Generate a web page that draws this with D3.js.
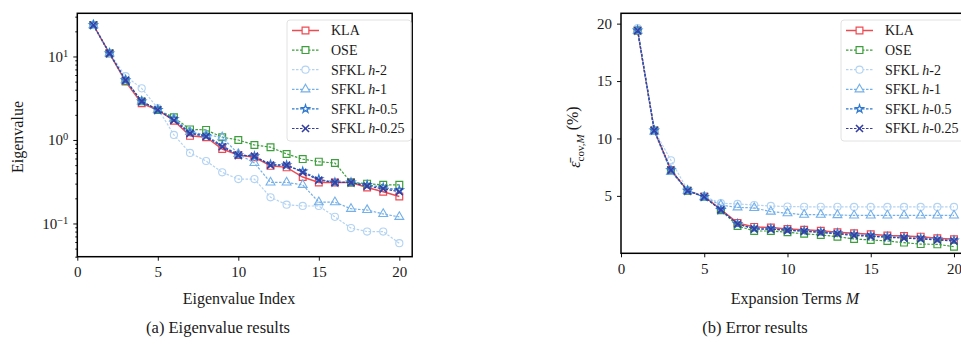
<!DOCTYPE html>
<html>
<head>
<meta charset="utf-8">
<script src="https://cdn.jsdelivr.net/npm/d3@7"></script>
<style>
body { margin: 0; background: #fff; }
text { font-family: "Liberation Serif", "Times New Roman", serif; fill: #1a1a1a; }
</style>
</head>
<body>
<script>
// x values (index / number of terms)
var terms = [1,2,3,4,5,6,7,8,9,10,11,12,13,14,15,16,17,18,19,20];

// (a) eigenvalues
var eigKLA  = [23.8,10.9,5.0,2.75,2.29,1.70,1.12,1.08,0.78,0.66,0.62,0.49,0.47,0.36,0.31,0.31,0.31,0.27,0.24,0.21];
var eigOSE  = [23.8,10.9,5.1,2.9,2.29,1.87,1.34,1.32,1.08,1.0,0.87,0.82,0.68,0.59,0.55,0.53,0.31,0.30,0.29,0.29];
var eigH2   = [23.8,11.0,5.8,4.15,2.4,1.15,0.70,0.56,0.41,0.34,0.34,0.206,0.168,0.162,0.162,0.12,0.088,0.08,0.08,0.058];
var eigH1   = [23.8,10.9,5.2,2.9,2.29,1.80,1.25,1.15,1.08,0.68,0.53,0.31,0.31,0.29,0.18,0.18,0.15,0.145,0.13,0.12];
var eigH05  = [23.8,10.9,5.2,2.9,2.29,1.78,1.22,1.12,0.86,0.66,0.64,0.51,0.50,0.42,0.34,0.31,0.31,0.29,0.27,0.25];
var eigH025 = [23.8,10.9,5.2,2.9,2.29,1.72,1.20,1.10,0.83,0.66,0.64,0.50,0.50,0.41,0.33,0.31,0.31,0.28,0.26,0.24];

// (b) error in %
var errKLA  = [19.4,10.7,7.25,5.45,4.95,3.8,2.65,2.3,2.25,2.12,2.05,1.97,1.83,1.74,1.65,1.54,1.51,1.45,1.31,1.22];
var errOSE  = [19.4,10.7,7.2,5.45,4.9,3.75,2.38,1.94,1.94,1.83,1.7,1.6,1.45,1.25,1.16,1.07,0.93,0.8,0.78,0.58];
var errH2   = [19.6,10.7,8.1,5.5,4.95,4.36,4.3,4.2,4.12,4.07,4.05,4.05,4.05,4.04,4.04,4.04,4.04,4.04,4.04,4.04];
var errH1   = [19.4,10.6,7.1,5.45,4.9,4.2,4.0,3.95,3.63,3.49,3.36,3.36,3.33,3.3,3.3,3.3,3.3,3.3,3.3,3.3];
var errH05  = [19.4,10.7,7.25,5.45,4.92,3.78,2.55,2.15,2.12,2.02,1.95,1.85,1.75,1.62,1.52,1.42,1.38,1.3,1.22,1.12];
var errH025 = [19.4,10.7,7.25,5.45,4.92,3.78,2.55,2.12,2.1,2.0,1.92,1.8,1.7,1.55,1.48,1.4,1.32,1.25,1.16,1.07];

var seriesNames = ["KLA", "OSE", "SFKL h-2", "SFKL h-1", "SFKL h-0.5", "SFKL h-0.25"];
var hLabels = [null, null, "-2", "-1", "-0.5", "-0.25"];
var xTicks = [0,5,10,15,20];
var logTicks = [0.1, 1, 10];
var errTicks = [5,10,15,20];

// styles per series
var colors  = ["#ee4a52", "#3c9e3c", "#b3d3f3", "#74b0e9", "#2f78cf", "#353fa3"];
var dashes  = [null, "2.5,1.5", "2.5,1.5", "2.5,1.5", "2.5,1.5", "2.5,1.5"];
var symbols = [d3.symbolSquare, d3.symbolSquare, d3.symbolCircle, d3.symbolTriangle, d3.symbolStar, d3.symbolTimes];
var symSize = [46, 46, 40, 34, 20, 34];
var symWidth = [1.2, 1.2, 1.1, 1.1, 1.2, 1.6];

var W = 961, H = 344;
var svg = d3.select("body").append("svg").attr("width", W).attr("height", H);

function drawPanel(o) {
    var x = d3.scaleLinear().domain([0, 20.8]).range([o.left, o.right]);
    var y = o.log ? d3.scaleLog().domain(o.ydom).range([o.bottom, o.top])
                  : d3.scaleLinear().domain(o.ydom).range([o.bottom, o.top]);
    var g = svg.append("g");

    // x axis
    var xa = g.append("g").attr("transform", "translate(0," + o.bottom + ")")
        .call(d3.axisBottom(x).tickValues(xTicks).tickSize(4).tickPadding(6).tickSizeOuter(0));
    xa.select(".domain").remove();
    xa.attr("font-family", null);
    xa.selectAll("text").style("font-size", "15px");

    // y axis
    var ya = g.append("g").attr("transform", "translate(" + o.left + ",0)")
        .call(d3.axisLeft(y).tickValues(o.yticks).tickSize(4).tickPadding(5).tickSizeOuter(0));
    ya.select(".domain").remove();
    ya.attr("font-family", null);
    ya.selectAll("text").style("font-size", "15px");
    if (o.log) {
        ya.selectAll(".tick text").each(function(d) {
            var t = d3.select(this).text("");
            var e = Math.round(Math.log10(d));
            t.append("tspan").text("10");
            t.append("tspan").attr("dy", "-0.5em").style("font-size", "10.5px")
                .text(e < 0 ? "\u2212" + (-e) : e);
        });
        // minor ticks
        var minor = [];
        [0.01, 0.1, 1, 10].forEach(function(dec) {
            for (var k = 2; k <= 9; k++) {
                var v = dec * k;
                if (v >= o.ydom[0] && v <= o.ydom[1]) minor.push(v);
            }
        });
        var ym = g.append("g").attr("transform", "translate(" + o.left + ",0)")
            .call(d3.axisLeft(y).tickValues(minor).tickSize(2).tickFormat("").tickSizeOuter(0));
        ym.select(".domain").remove();
    }
    g.selectAll(".tick line").attr("stroke", "#111");

    // series
    var line = d3.line().x(function(d, i) { return x(terms[i]); }).y(function(d) { return y(d); });
    o.data.forEach(function(vals, s) {
        g.append("path").attr("d", line(vals)).attr("fill", "none")
            .attr("stroke", colors[s]).attr("stroke-width", s == 0 ? 1.5 : 1.2)
            .attr("stroke-dasharray", dashes[s]);
        g.selectAll(null).data(vals).enter().append("path")
            .attr("transform", function(d, i) { return "translate(" + x(terms[i]) + "," + y(d) + ")"; })
            .attr("d", d3.symbol().type(symbols[s]).size(symSize[s]))
            .attr("fill", "none")
            .attr("stroke", colors[s]).attr("stroke-width", symWidth[s]);
    });

    // spines
    g.append("rect").attr("x", o.left).attr("y", o.top)
        .attr("width", o.right - o.left).attr("height", o.bottom - o.top)
        .attr("fill", "none").attr("stroke", "#000").attr("stroke-width", 1.5);

    // legend
    var lg = g.append("g").attr("transform", "translate(" + o.legX + "," + o.legY + ")");
    lg.append("rect").attr("width", o.legW).attr("height", 121).attr("rx", 3)
        .attr("fill", "#fff").attr("fill-opacity", 0.85).attr("stroke", "#e2e2e2");
    seriesNames.forEach(function(n, s) {
        var ry = 10.5 + s * 19.6;
        lg.append("line").attr("x1", 5).attr("x2", 32).attr("y1", ry).attr("y2", ry)
            .attr("stroke", colors[s]).attr("stroke-width", s == 0 ? 1.5 : 1.2)
            .attr("stroke-dasharray", dashes[s]);
        lg.append("path").attr("transform", "translate(18.5," + ry + ")")
            .attr("d", d3.symbol().type(symbols[s]).size(symSize[s]))
            .attr("fill", "#fff")
            .attr("stroke", colors[s]).attr("stroke-width", symWidth[s]);
        var t = lg.append("text").attr("x", 44).attr("y", ry + 4.8).style("font-size", "14px");
        if (hLabels[s] == null) t.text(n);
        else {
            t.append("tspan").text("SFKL ");
            t.append("tspan").style("font-style", "italic").text("h");
            t.append("tspan").text(hLabels[s]);
        }
    });

    // x label
    var xl = g.append("text").attr("x", o.xlabX).attr("y", 304)
        .attr("text-anchor", "middle").style("font-size", "16px");
    xl.append("tspan").text(o.xlab);
    if (o.xlabIt) xl.append("tspan").style("font-style", "italic").text(o.xlabIt);

    // caption
    g.append("text").attr("x", o.capX).attr("y", 333).attr("text-anchor", "middle")
        .style("font-size", "16.5px").text(o.caption);
    return g;
}

drawPanel({
    left: 77.3, right: 412.2, top: 13.3, bottom: 256.7,
    log: true, ydom: [0.04, 32.9], yticks: logTicks,
    data: [eigKLA, eigOSE, eigH2, eigH1, eigH05, eigH025],
    legX: 287, legY: 20, legW: 124,
    xlab: "Eigenvalue Index", xlabX: 239, capX: 218,
    caption: "(a) Eigenvalue results"
});
svg.append("text").attr("transform", "translate(23,137) rotate(-90)")
    .attr("text-anchor", "middle").style("font-size", "16px").text("Eigenvalue");

drawPanel({
    left: 621, right: 967.3, top: 13.3, bottom: 253.3,
    log: false, ydom: [0, 20.9], yticks: errTicks,
    data: [errKLA, errOSE, errH2, errH1, errH05, errH025],
    legX: 841, legY: 20, legW: 124,
    xlab: "Expansion Terms ", xlabIt: "M", xlabX: 795, capX: 755,
    caption: "(b) Error results"
});
var yl = svg.append("text").attr("transform", "translate(580,137) rotate(-90)")
    .attr("text-anchor", "middle").style("font-size", "16px");
yl.append("tspan").style("font-style", "italic").text("\u03b5\u0304");
yl.append("tspan").attr("dy", "0.35em").style("font-size", "11px").text("cov,");
yl.append("tspan").style("font-size", "11px").style("font-style", "italic").text("M");
yl.append("tspan").attr("dy", "-0.35em").text(" (%)");
</script>
</body>
</html>
